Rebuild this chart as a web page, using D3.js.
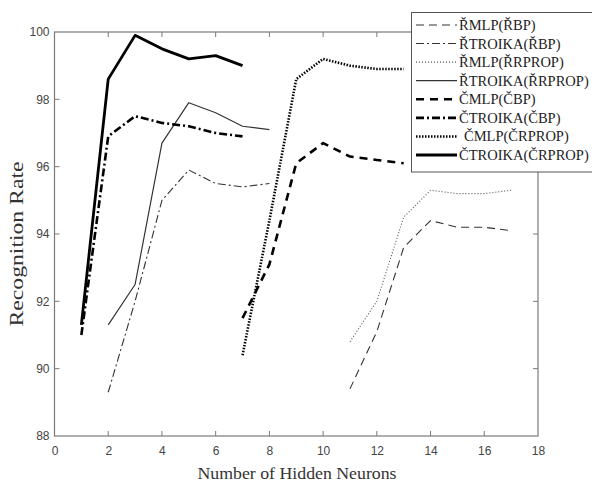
<!DOCTYPE html>
<html>
<head>
<meta charset="utf-8">
<script src="https://cdn.jsdelivr.net/npm/d3@7"></script>
<style>
  html, body { margin: 0; padding: 0; background: #fff; }
  svg { display: block; }
</style>
</head>
<body>
<svg id="chart" width="592" height="483"></svg>
<script>
// Recognition rate against number of hidden neurons, eight network/training variants
const seriesNames = [
  "ŘMLP(ŘBP)", "ŘTROIKA(ŘBP)", "ŘMLP(ŘRPROP)", "ŘTROIKA(ŘRPROP)",
  "ČMLP(ČBP)", "ČTROIKA(ČBP)", "ČMLP(ČRPROP)", "ČTROIKA(ČRPROP)"
];
const neuronsRMLP = [11, 12, 13, 14, 15, 16, 17];
const neuronsRTROIKA = [2, 3, 4, 5, 6, 7, 8];
const neuronsCMLP = [7, 8, 9, 10, 11, 12, 13];
const neuronsCTROIKA = [1, 2, 3, 4, 5, 6, 7];

const rateRMLP_RBP = [89.4, 91.1, 93.6, 94.4, 94.2, 94.2, 94.1];
const rateRTROIKA_RBP = [89.3, 92.0, 95.0, 95.9, 95.5, 95.4, 95.5];
const rateRMLP_RRPROP = [90.8, 92.0, 94.5, 95.3, 95.2, 95.2, 95.3];
const rateRTROIKA_RRPROP = [91.3, 92.5, 96.7, 97.9, 97.6, 97.2, 97.1];
const rateCMLP_CBP = [91.5, 93.1, 96.1, 96.7, 96.3, 96.2, 96.1];
const rateCTROIKA_CBP = [91.0, 96.9, 97.5, 97.3, 97.2, 97.0, 96.9];
const rateCMLP_CRPROP = [90.4, 94.4, 98.6, 99.2, 99.0, 98.9, 98.9];
const rateCTROIKA_CRPROP = [91.3, 98.6, 99.9, 99.5, 99.2, 99.3, 99.0];

const xTicks = [0, 2, 4, 6, 8, 10, 12, 14, 16, 18];
const yTicks = [88, 90, 92, 94, 96, 98, 100];

const series = [
  { name: seriesNames[0], x: neuronsRMLP, y: rateRMLP_RBP, color: "#333", width: 1.1, dash: "8,5" },
  { name: seriesNames[1], x: neuronsRTROIKA, y: rateRTROIKA_RBP, color: "#333", width: 1.1, dash: "8,3,2,3" },
  { name: seriesNames[2], x: neuronsRMLP, y: rateRMLP_RRPROP, color: "#555", width: 1.1, dash: "1,2" },
  { name: seriesNames[3], x: neuronsRTROIKA, y: rateRTROIKA_RRPROP, color: "#333", width: 1.2, dash: null },
  { name: seriesNames[4], x: neuronsCMLP, y: rateCMLP_CBP, color: "#000", width: 2.6, dash: "8,6" },
  { name: seriesNames[5], x: neuronsCTROIKA, y: rateCTROIKA_CBP, color: "#000", width: 2.6, dash: "8,3,2,3" },
  { name: seriesNames[6], x: neuronsCMLP, y: rateCMLP_CRPROP, color: "#000", width: 2.6, dash: "1.5,1.5" },
  { name: seriesNames[7], x: neuronsCTROIKA, y: rateCTROIKA_CRPROP, color: "#000", width: 2.8, dash: null }
];

const svg = d3.select("#chart");
const plot = { left: 54.5, right: 538, top: 32, bottom: 436 };

const x = d3.scaleLinear().domain([0, 18]).range([plot.left, plot.right]);
const y = d3.scaleLinear().domain([88, 100]).range([plot.bottom, plot.top]);

const axisColor = "#7a7a7a";
const tickFont = "'Liberation Sans', Arial, sans-serif";

// Tick labels
const xAxis = d3.axisBottom(x).tickValues(xTicks).tickSize(0).tickPadding(10).tickFormat(d3.format("d"));
const yAxis = d3.axisLeft(y).tickValues(yTicks).tickSize(0).tickPadding(5).tickFormat(d3.format("d"));

const gx = svg.append("g").attr("transform", `translate(0,${plot.bottom})`).call(xAxis);
const gy = svg.append("g").attr("transform", `translate(${plot.left},0)`).call(yAxis);
[gx, gy].forEach(g => {
  g.select(".domain").remove();
  g.selectAll("text").attr("fill", "#444").style("font-family", tickFont).style("font-size", "12px");
});

// Inward tick marks on all four sides
const tickLen = 5;
const ticks = svg.append("g").attr("stroke", axisColor).attr("stroke-width", 1);
xTicks.slice(1, -1).forEach(t => {
  ticks.append("line").attr("x1", x(t)).attr("x2", x(t)).attr("y1", plot.bottom).attr("y2", plot.bottom - tickLen);
  ticks.append("line").attr("x1", x(t)).attr("x2", x(t)).attr("y1", plot.top).attr("y2", plot.top + tickLen);
});
yTicks.slice(1, -1).forEach(t => {
  ticks.append("line").attr("x1", plot.left).attr("x2", plot.left + tickLen).attr("y1", y(t)).attr("y2", y(t));
  ticks.append("line").attr("x1", plot.right).attr("x2", plot.right - tickLen).attr("y1", y(t)).attr("y2", y(t));
});

// Plot box
svg.append("rect")
  .attr("x", plot.left).attr("y", plot.top)
  .attr("width", plot.right - plot.left).attr("height", plot.bottom - plot.top)
  .attr("fill", "none").attr("stroke", axisColor).attr("stroke-width", 1.2);

// Lines
const line = d3.line().x(d => x(d[0])).y(d => y(d[1]));
const lines = svg.append("g").attr("fill", "none");
series.forEach(s => {
  lines.append("path")
    .datum(s.x.map((v, i) => [v, s.y[i]]))
    .attr("d", line)
    .attr("stroke", s.color)
    .attr("stroke-width", s.width)
    .attr("stroke-dasharray", s.dash)
    .attr("stroke-linejoin", "round");
});

// Axis titles
const titleFont = "'Liberation Serif', 'Times New Roman', serif";
svg.append("text")
  .attr("x", 297).attr("y", 479)
  .attr("text-anchor", "middle")
  .attr("fill", "#333")
  .style("font-family", titleFont).style("font-size", "17px")
  .attr("textLength", 199).attr("lengthAdjust", "spacingAndGlyphs")
  .text("Number of Hidden Neurons");

svg.append("text")
  .attr("transform", "translate(23,244) rotate(-90)")
  .attr("text-anchor", "middle")
  .attr("fill", "#333")
  .style("font-family", titleFont).style("font-size", "18px")
  .attr("textLength", 165).attr("lengthAdjust", "spacingAndGlyphs")
  .text("Recognition Rate");

// Legend
const legend = svg.append("g");
const lgLeft = 411.5, lgTop = 12.5, lgBottom = 172;
legend.append("rect")
  .attr("x", lgLeft).attr("y", lgTop)
  .attr("width", 200).attr("height", lgBottom - lgTop)
  .attr("fill", "#fff").attr("stroke", "#555").attr("stroke-width", 1);

const rowY = d3.scaleLinear().domain([0, 7]).range([25, 155]);
series.forEach((s, i) => {
  const cy = rowY(i);
  legend.append("line")
    .attr("x1", 416).attr("x2", 457).attr("y1", cy).attr("y2", cy)
    .attr("stroke", s.color)
    .attr("stroke-width", s.width)
    .attr("stroke-dasharray", s.dash);
  legend.append("text")
    .attr("x", i === 6 ? 464 : 459).attr("y", cy + 5)
    .attr("fill", "#222")
    .style("font-family", titleFont).style("font-size", "14.5px")
    .text(s.name);
});
</script>
</body>
</html>
